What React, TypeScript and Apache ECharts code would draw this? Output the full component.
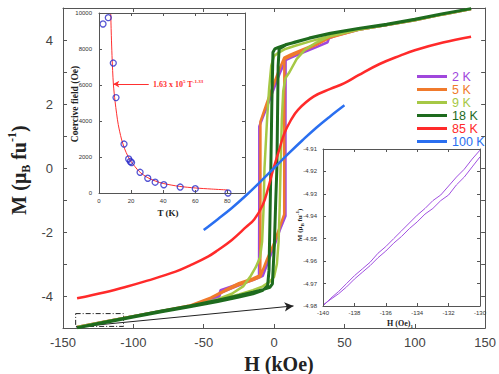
import React, { useEffect, useRef } from "react";
import * as echarts from "echarts";

type P = [number, number];

const seriesNames = ["2 K", "5 K", "9 K", "18 K", "85 K", "100 K"];
const seriesColors = ["#A047DC", "#F07A2C", "#A6C845", "#1E6B1E", "#FF2A2A", "#2A6FF0"];
const seriesWidths = [2.5, 2.5, 2.5, 3, 2.5, 2.5];

// 2 K loop
const k2Down: P[] = [[140,4.97],[120,4.8],[100,4.62],[80,4.47],[60,4.32],[45,4.15],[39,4.05],[38,3.93],[30,3.78],[20,3.6],[12,3.45],[8.1,3.37],[4,2.95],[0,2.5],[-5,1.92],[-10.5,1.3],[-10.5,-0.5],[-10.6,-2.0],[-10.7,-3.4],[-15,-3.48],[-25,-3.62],[-38,-3.82],[-39,-3.95],[-45,-4.12],[-60,-4.32],[-80,-4.47],[-100,-4.63],[-120,-4.8],[-140,-4.97]];
const k2Up: P[] = [[-140,-4.97],[-120,-4.8],[-100,-4.63],[-80,-4.47],[-60,-4.32],[-45,-4.13],[-39,-4.02],[-38,-3.9],[-30,-3.75],[-20,-3.58],[-12,-3.45],[-8,-3.37],[-4,-2.9],[0,-2.45],[4,-1.95],[8.1,-1.5],[8.1,0],[8.1,1.5],[8.2,3.37],[12,3.45],[20,3.6],[30,3.78],[38,3.93],[39,4.05],[45,4.15],[60,4.32],[80,4.47],[100,4.62],[120,4.8],[140,4.97]];
// 5 K loop
const k5Down: P[] = [[140,4.97],[120,4.8],[100,4.62],[80,4.47],[60,4.32],[40,4.1],[30,3.88],[20,3.7],[12,3.55],[7.2,3.45],[3,3.0],[0,2.65],[-5,2.05],[-9.7,1.45],[-9.7,-1.0],[-9.8,-3.35],[-15,-3.45],[-25,-3.6],[-35,-3.82],[-45,-4.05],[-60,-4.3],[-80,-4.47],[-100,-4.63],[-120,-4.8],[-140,-4.97]];
const k5Up: P[] = [[-140,-4.97],[-120,-4.8],[-100,-4.63],[-80,-4.47],[-60,-4.3],[-45,-4.07],[-35,-3.85],[-25,-3.65],[-15,-3.5],[-9.8,-3.4],[-5,-2.85],[0,-2.35],[4,-1.85],[7.2,-1.45],[7.2,1.0],[7.3,3.4],[12,3.5],[20,3.65],[30,3.85],[40,4.08],[60,4.32],[80,4.47],[100,4.62],[120,4.8],[140,4.97]];
// 9 K loop
const k9Down: P[] = [[140,4.97],[120,4.8],[100,4.62],[80,4.47],[60,4.32],[40,4.13],[25,3.95],[15,3.82],[8,3.72],[3,3.6],[0,3.5],[-2,3.2],[-3.5,2.5],[-5,1.5],[-6.2,0.5],[-6.8,0],[-7.5,-1.3],[-8.5,-2.3],[-10,-2.8],[-13,-3.1],[-17,-3.4],[-22,-3.7],[-30,-3.93],[-40,-4.1],[-50,-4.22],[-60,-4.32],[-80,-4.48],[-100,-4.63],[-120,-4.8],[-140,-4.97]];
const k9Up: P[] = [[-140,-4.97],[-120,-4.8],[-100,-4.63],[-80,-4.47],[-60,-4.32],[-40,-4.13],[-25,-3.95],[-15,-3.82],[-8,-3.7],[-3,-3.55],[0,-3.4],[2,-3.0],[3.2,-2.3],[4.0,-1.2],[4.6,0],[5.5,1.5],[6.5,2.4],[8,2.8],[11,3.0],[16,3.4],[22,3.7],[30,3.92],[40,4.12],[60,4.33],[80,4.48],[100,4.63],[120,4.8],[140,4.97]];
// 18 K loop
const k18Down: P[] = [[140,4.98],[120,4.82],[100,4.64],[80,4.48],[60,4.36],[40,4.2],[25,4.05],[15,3.93],[8,3.85],[3,3.77],[0.5,3.72],[-0.8,3.62],[-1.6,2.0],[-2.3,0],[-3.0,-1.8],[-3.6,-3.2],[-4.6,-3.68],[-8,-3.82],[-15,-3.93],[-25,-4.03],[-40,-4.17],[-60,-4.34],[-80,-4.49],[-100,-4.66],[-120,-4.83],[-140,-4.99]];
const k18Up: P[] = [[-140,-4.98],[-120,-4.81],[-100,-4.64],[-80,-4.47],[-60,-4.31],[-40,-4.13],[-25,-3.98],[-15,-3.88],[-8,-3.8],[-3,-3.73],[-1.2,-3.62],[0.2,-2.4],[1.2,-1.0],[2.0,0],[2.5,1.8],[2.9,3.2],[3.6,3.72],[8,3.84],[15,3.94],[25,4.06],[40,4.21],[60,4.36],[80,4.49],[100,4.65],[120,4.82],[140,4.98]];
// 85 K
const k85: P[] = [[-140,-4.07],[-120,-3.88],[-105,-3.71],[-90,-3.52],[-70,-3.24],[-60,-3.05],[-47,-2.77],[-40,-2.57],[-30,-2.25],[-20,-1.85],[-14,-1.6],[-8,-1.15],[-4,-0.6],[-1,-0.1],[0,0.05],[4,0.62],[7,1.05],[12,1.5],[17,1.82],[28,2.23],[40,2.47],[50,2.65],[60,2.9],[75,3.25],[90,3.52],[100,3.68],[120,3.92],[140,4.1]];
// 100 K
const k100: P[] = [[-50,-1.94],[-40,-1.6],[-30,-1.25],[-20,-0.86],[-10,-0.44],[0,0],[10,0.44],[20,0.86],[30,1.26],[40,1.62],[50,1.96]];

// Inset 1: coercive field vs T
const insetT = [2.5, 5.8, 8.9, 10.6, 15.6, 18.5, 19.5, 20.3, 25.6, 30.4, 35, 40.4, 50.6, 60, 80.4];
const insetHc = [9390, 9740, 7220, 5300, 2720, 1890, 1750, 1690, 1150, 820, 600, 460, 330, 240, 0];
const fitT = [7.3, 7.6, 8.0, 8.5, 9, 10, 11, 12, 14, 16, 18, 20, 25, 30, 35, 40, 50, 60, 70, 80];
const fitHc = [10000, 9000, 7900, 6800, 6000, 5100, 4400, 3800, 3000, 2450, 2050, 1750, 1200, 870, 670, 530, 370, 280, 220, 170];

// Inset 2: zoom of 2 K loop near -140 Oe
const zoomUpper: P[] = [[-140,-4.98],[-139.5,-4.9765],[-139,-4.9735],[-138.5,-4.97],[-138,-4.9665],[-137.5,-4.9635],[-137,-4.9605],[-136.5,-4.9565],[-136,-4.9535],[-135.5,-4.95],[-135,-4.9465],[-134.5,-4.943],[-134,-4.9395],[-133.5,-4.9365],[-133,-4.933],[-132.5,-4.9305],[-132,-4.9265],[-131.5,-4.9225],[-131,-4.919],[-130.5,-4.9145],[-130,-4.9105]];
const zoomLower: P[] = [[-140,-4.9795],[-139.5,-4.977],[-139,-4.9745],[-138.5,-4.9715],[-138,-4.968],[-137.5,-4.965],[-137,-4.962],[-136.5,-4.9585],[-136,-4.9555],[-135.5,-4.952],[-135,-4.949],[-134.5,-4.9455],[-134,-4.9425],[-133.5,-4.939],[-133,-4.9365],[-132.5,-4.933],[-132,-4.9305],[-131.5,-4.926],[-131,-4.9225],[-130.5,-4.918],[-130,-4.9135]];

const SERIF = "Liberation Serif, Times New Roman, serif";
const SANS = "Liberation Sans, Arial, sans-serif";

function axisCommon(color: string, tickLen: number, z: number) {
  return {
    z,
    axisLine: { show: true, onZero: false, lineStyle: { color, width: 1 } },
    axisTick: { show: true, inside: true, length: tickLen, lineStyle: { color, width: 1 } },
    splitLine: { show: false },
  };
}

export default function App() {
  const ref = useRef<HTMLDivElement>(null);
  useEffect(() => {
    if (!ref.current) return;
    const chart = echarts.init(ref.current, undefined, { renderer: "svg" });
    const loops = [
      [...k2Down, ...k2Up],
      [...k5Down, ...k5Up],
      [...k9Down, ...k9Up],
      [...k18Down, ...k18Up],
      k85,
      k100,
    ];
    const mainSeries: any[] = loops.map((d, i) => ({
      name: seriesNames[i],
      type: "line",
      xAxisIndex: 0,
      yAxisIndex: 0,
      data: d,
      showSymbol: false,
      symbol: "none",
      smooth: i >= 4 ? 0.4 : false,
      lineStyle: { color: seriesColors[i], width: seriesWidths[i] },
      itemStyle: { color: seriesColors[i] },
      z: 2 + i,
    }));
    mainSeries[5].markLine = {
      silent: true,
      symbol: ["none", "arrow"],
      symbolSize: [7, 9],
      lineStyle: { color: "#222", width: 1, type: "solid" },
      label: { show: false },
      data: [[{ coord: [-140.8, -4.97] }, { coord: [13.8, -4.31] }]],
    };
    mainSeries[5].markArea = {
      silent: true,
      itemStyle: { color: "rgba(0,0,0,0)", borderColor: "#222", borderWidth: 1, borderType: [5, 2, 1, 2] },
      label: { show: false },
      data: [[{ coord: [-141, -4.55] }, { coord: [-107, -4.95] }]],
    };

    const option: any = {
      animation: false,
      backgroundColor: "#fff",
      grid: [
        { left: 63, top: 8, right: 11, bottom: 46, show: false },
        { left: 99, top: 13, width: 146, height: 180, show: true, backgroundColor: "#fff", borderWidth: 0, z: 10 },
        { left: 323, top: 149, width: 157, height: 157, show: true, backgroundColor: "#fff", borderWidth: 0, z: 10 },
      ],
      legend: {
        orient: "vertical",
        left: 412,
        top: 65,
        icon: "rect",
        itemWidth: 30,
        itemHeight: 3,
        itemGap: 0,
        selectedMode: false,
        data: seriesNames.map((n, i) => ({ name: n, textStyle: { color: seriesColors[i] } })),
        textStyle: { fontSize: 12.5, fontFamily: SANS, lineHeight: 13 },
      },
      xAxis: [
        { gridIndex: 0, type: "value", min: -150, max: 150, interval: 50, position: "bottom", ...axisCommon("#555", 4, 1),
          axisLabel: { fontSize: 13, color: "#444", margin: 8, fontFamily: SANS, showMinLabel: true, showMaxLabel: true } },
        { gridIndex: 0, type: "value", min: -150, max: 150, interval: 50, position: "top", ...axisCommon("#555", 4, 1),
          axisLabel: { show: false } },
        { gridIndex: 1, type: "value", min: 0, max: 91, interval: 20, position: "bottom", ...axisCommon("#555", 3, 15),
          axisLabel: { fontSize: 6, color: "#333", margin: 5, fontFamily: SANS, formatter: (v: number) => (v % 20 === 0 ? String(v) : "") } },
        { gridIndex: 1, type: "value", min: 0, max: 91, interval: 20, position: "top", ...axisCommon("#555", 3, 15),
          axisLabel: { show: false } },
        { gridIndex: 2, type: "value", min: -140, max: -130, interval: 2, position: "bottom", ...axisCommon("#555", 3, 15),
          axisLabel: { fontSize: 6, color: "#333", margin: 4, fontFamily: SANS, showMinLabel: true, showMaxLabel: true } },
        { gridIndex: 2, type: "value", min: -140, max: -130, interval: 2, position: "top", ...axisCommon("#555", 3, 15),
          axisLabel: { show: false } },
      ],
      yAxis: [
        { gridIndex: 0, type: "value", min: -5, max: 5, interval: 1, position: "left", ...axisCommon("#555", 4, 1),
          axisLabel: { fontSize: 13, color: "#444", margin: 10, fontFamily: SANS,
            formatter: (v: number) => (Math.round(v) % 2 === 0 && Math.abs(v) < 5 ? String(v) : "") } },
        { gridIndex: 0, type: "value", min: -5, max: 5, interval: 1, position: "right", ...axisCommon("#555", 4, 1),
          axisLabel: { show: false } },
        { gridIndex: 1, type: "value", min: 0, max: 10000, interval: 2000, position: "left", ...axisCommon("#555", 3, 15),
          axisLabel: { fontSize: 6, color: "#333", margin: 7, fontFamily: SANS, formatter: (v: number) => String(v) } },
        { gridIndex: 1, type: "value", min: 0, max: 10000, interval: 2000, position: "right", ...axisCommon("#555", 3, 15),
          axisLabel: { show: false } },
        { gridIndex: 2, type: "value", min: -4.98, max: -4.91, interval: 0.01, position: "left", ...axisCommon("#555", 3, 15),
          axisLabel: { fontSize: 6, color: "#333", margin: 6, fontFamily: SANS, formatter: (v: number) => v.toFixed(2) } },
        { gridIndex: 2, type: "value", min: -4.98, max: -4.91, interval: 0.01, position: "right", ...axisCommon("#555", 3, 15),
          axisLabel: { show: false } },
      ],
      series: [
        ...mainSeries,
        {
          name: "fit",
          type: "line",
          xAxisIndex: 2,
          yAxisIndex: 2,
          data: fitT.map((t, i) => [t, fitHc[i]]),
          showSymbol: false,
          symbol: "none",
          smooth: 0.3,
          lineStyle: { color: "#FF3030", width: 1 },
          z: 12,
          markLine: {
            silent: true,
            z: 14,
            symbol: ["none", "arrow"],
            symbolSize: [5, 6],
            lineStyle: { color: "#FF3030", width: 1, type: "solid" },
            label: { show: false },
            data: [[{ coord: [31, 6050] }, { coord: [8.9, 6050] }]],
          },
        },
        {
          name: "Hc",
          type: "scatter",
          xAxisIndex: 2,
          yAxisIndex: 2,
          data: insetT.map((t, i) => [t, insetHc[i]]),
          symbol: "circle",
          symbolSize: 6,
          itemStyle: { color: "rgba(0,0,0,0)", borderColor: "#2B2BC8", borderWidth: 1.3 },
          z: 13,
        },
        {
          name: "zoomUp",
          type: "line",
          xAxisIndex: 4,
          yAxisIndex: 4,
          data: zoomUpper,
          showSymbol: false,
          symbol: "none",
          lineStyle: { color: "#A050E0", width: 1 },
          z: 12,
        },
        {
          name: "zoomLow",
          type: "line",
          xAxisIndex: 4,
          yAxisIndex: 4,
          data: zoomLower,
          showSymbol: false,
          symbol: "none",
          lineStyle: { color: "#A050E0", width: 1 },
          z: 12,
        },
      ],
      graphic: [
        {
          type: "text", x: 279, y: 364, z: 20,
          style: { text: "H (kOe)", fontSize: 20, fontWeight: "bold", fontFamily: SERIF, fill: "#222", align: "center", verticalAlign: "middle" },
        },
        {
          type: "text", x: 19, y: 170, rotation: Math.PI / 2, z: 20,
          style: {
            text: "{m|M (μ}{sub|B}{m| fu}{sup|-1}{m|)}",
            align: "center", verticalAlign: "middle", fill: "#222",
            rich: {
              m: { fontSize: 20, fontWeight: "bold", fontFamily: SERIF, fill: "#222", lineHeight: 26, verticalAlign: "middle" },
              sub: { fontSize: 12, fontWeight: "bold", fontFamily: SERIF, fill: "#222", lineHeight: 12, verticalAlign: "bottom" },
              sup: { fontSize: 12, fontWeight: "bold", fontFamily: SERIF, fill: "#222", lineHeight: 12, verticalAlign: "top" },
            },
          },
        },
        {
          type: "text", x: 168, y: 213, z: 20,
          style: { text: "T (K)", fontSize: 9, fontWeight: "bold", fontFamily: SERIF, fill: "#222", align: "center", verticalAlign: "middle" },
        },
        {
          type: "text", x: 75, y: 104, rotation: Math.PI / 2, z: 20,
          style: { text: "Coercive field (Oe)", fontSize: 9.5, fontWeight: "bold", fontFamily: SERIF, fill: "#222", align: "center", verticalAlign: "middle" },
        },
        {
          type: "text", x: 153, y: 84, z: 20,
          style: {
            text: "{m|1.63 x 10}{sup|5}{m| T}{sup|-1.33}",
            align: "left", verticalAlign: "middle",
            rich: {
              m: { fontSize: 8, fontWeight: "bold", fontFamily: SERIF, fill: "#FF3030", lineHeight: 11, verticalAlign: "middle" },
              sup: { fontSize: 5, fontWeight: "bold", fontFamily: SERIF, fill: "#FF3030", lineHeight: 5, verticalAlign: "top" },
            },
          },
        },
        {
          type: "text", x: 300, y: 225, rotation: Math.PI / 2, z: 20,
          style: {
            text: "{m|M (μ}{sub|B}{m| fu}{sup|-1}{m|)}",
            align: "center", verticalAlign: "middle",
            rich: {
              m: { fontSize: 7, fontWeight: "bold", fontFamily: SERIF, fill: "#222", lineHeight: 10, verticalAlign: "middle" },
              sub: { fontSize: 5, fontWeight: "bold", fontFamily: SERIF, fill: "#222", lineHeight: 5, verticalAlign: "bottom" },
              sup: { fontSize: 5, fontWeight: "bold", fontFamily: SERIF, fill: "#222", lineHeight: 5, verticalAlign: "top" },
            },
          },
        },
        {
          type: "text", x: 400, y: 323, z: 20,
          style: {
            text: "{m|H (Oe)}{sub|1}",
            align: "center", verticalAlign: "middle",
            rich: {
              m: { fontSize: 8, fontWeight: "bold", fontFamily: SERIF, fill: "#222", lineHeight: 11, verticalAlign: "middle" },
              sub: { fontSize: 5, fontWeight: "bold", fontFamily: SERIF, fill: "#222", lineHeight: 5, verticalAlign: "bottom" },
            },
          },
        },
      ],
    };
    chart.setOption(option);
    return () => chart.dispose();
  }, []);
  return <div ref={ref} style={{ position: "fixed", left: 0, top: 0, width: 499, height: 374, background: "#fff" }} />;
}
